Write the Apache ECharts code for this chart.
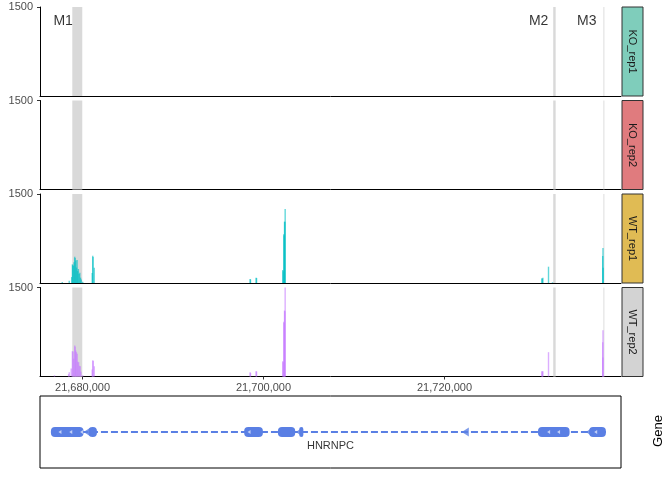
<!DOCTYPE html>
<html>
<head>
<meta charset="utf-8">
<script src="https://cdn.jsdelivr.net/npm/echarts@6/dist/echarts.min.js"></script>
<style>
  html, body { margin: 0; padding: 0; background: #fff; }
  #main { width: 672px; height: 480px; }
</style>
</head>
<body>
<div id="main"></div>
<script>
// genomic window (bp)
const xMin = 21675300
const xMax = 21739500
const xTicks = [21680000, 21700000, 21720000]
const yMax = 1500

const sampleNames = ['KO_rep1', 'KO_rep2', 'WT_rep1', 'WT_rep2']
const stripColors = ['#7FCDBB', '#E07B7E', '#E0BB54', '#D3D3D3']
const trackColors = ['#00BFC4', '#F8766D', '#00BFC4', '#C77CFF']

// highlighted regions [start, end, label, labelPos]
const regions = [
  [21678870, 21679970, 'M1', 21677860],
  [21732010, 21732280, 'M2', 21730400],
  [21737560, 21737660, 'M3', 21735710]
]

// coverage [position, depth]
const ko1 = []
const ko2 = []
const wt1 = [
  [21677760, 15], [21678530, 40], [21678800, 100], [21678880, 315], [21678920, 300],
  [21679000, 290], [21679060, 350], [21679140, 443], [21679180, 420], [21679260, 380],
  [21679330, 260], [21679400, 388], [21679460, 200], [21679540, 236], [21679620, 150],
  [21679700, 173], [21679780, 90], [21679860, 60], [21680020, 20],
  [21681070, 168], [21681130, 460], [21681160, 440], [21681290, 258],
  [21698520, 67], [21698560, 60], [21699180, 89], [21699230, 85],
  [21702130, 219], [21702170, 200], [21702240, 820], [21702280, 800],
  [21702320, 1033], [21702360, 1033], [21702390, 1247],
  [21730760, 79], [21730800, 70], [21730870, 90], [21731490, 275], [21731930, 12],
  [21737480, 455], [21737510, 590], [21737530, 258]
]
const wt2 = [
  [21676900, 20], [21678460, 40], [21678530, 73], [21678750, 135], [21678880, 426],
  [21678950, 420], [21679020, 300], [21679140, 522], [21679180, 500], [21679250, 438],
  [21679320, 410], [21679410, 382], [21679480, 250], [21679570, 241], [21679660, 180],
  [21679740, 174], [21679820, 80], [21680020, 20],
  [21681070, 118], [21681140, 275], [21681170, 260], [21681290, 174],
  [21698520, 73], [21698560, 60], [21699180, 90], [21699230, 85],
  [21702130, 258], [21702170, 240], [21702240, 921], [21702280, 900],
  [21702320, 1112], [21702360, 1100], [21702390, 1500],
  [21730760, 90], [21730800, 85], [21730870, 90], [21731490, 410],
  [21737480, 578], [21737500, 320], [21737510, 780]
]
const coverage = [ko1, ko2, wt1, wt2]

// gene model (HNRNPC, minus strand)
const geneName = 'HNRNPC'
const geneSpan = [21676510, 21737830]
const exons = [
  [21676510, 21680110], [21680660, 21681590], [21697860, 21699930],
  [21701590, 21703500], [21703950, 21704400], [21730330, 21733820],
  [21735980, 21737830]
]
const strandArrows = [21680500, 21703950, 21722300, 21736000]
const exonArrows = [21677500, 21678700, 21679900, 21698400, 21731500, 21732600, 21736700]

const chart = echarts.init(document.getElementById('main'))
const font = 'Liberation Sans, Arial, sans-serif'
const blue = '#5A7FE4'
const panelTop = [7, 100.5, 194, 287.5]
const panelH = 89

const grids = []
const xAxes = []
const yAxes = []
const series = []
const graphics = []

panelTop.forEach((top, i) => {
  grids.push({ left: 40, right: 51, top: top, height: panelH })
  const last = i === panelTop.length - 1
  xAxes.push({
    type: 'value', gridIndex: i, min: xMin, max: xMax,
    axisLine: { show: true, onZero: false, lineStyle: { color: '#000', width: 1 } },
    axisTick: { show: last, customValues: xTicks, length: 3, lineStyle: { color: '#333' } },
    axisLabel: {
      show: last, customValues: xTicks, color: '#4D4D4D', fontSize: 11, margin: 6, fontFamily: font,
      formatter: v => v.toLocaleString('en-US')
    },
    splitLine: { show: false }
  })
  yAxes.push({
    type: 'value', gridIndex: i, min: 0, max: yMax,
    axisLine: { show: true, lineStyle: { color: '#000', width: 1 } },
    axisTick: { show: true, customValues: [yMax], length: 3, lineStyle: { color: '#333' } },
    axisLabel: {
      customValues: [yMax], color: '#4D4D4D', fontSize: 11, margin: 7, fontFamily: font,
      formatter: v => String(v)
    },
    splitLine: { show: false }
  })
  // shaded regions
  series.push({
    type: 'line', xAxisIndex: i, yAxisIndex: i, data: [], z: 1, silent: true,
    markArea: {
      silent: true,
      itemStyle: { color: '#D9D9D9' },
      data: regions.map(r => [{ xAxis: r[0] }, { xAxis: r[1] }])
    }
  })
  series.push({
    type: 'bar', xAxisIndex: i, yAxisIndex: i, z: 2,
    data: coverage[i], barWidth: 1.4, barGap: '-100%',
    itemStyle: { color: trackColors[i], opacity: 0.62 }
  })
  graphics.push({
    type: 'rect', shape: { x: 622, y: top, width: 21, height: panelH },
    style: { fill: stripColors[i], stroke: '#333', lineWidth: 1 }
  })
  graphics.push({
    type: 'text', x: 632.5, y: top + panelH / 2, rotation: -Math.PI / 2,
    style: { text: sampleNames[i], fill: '#1A1A1A', fontSize: 11, fontFamily: font, align: 'center', verticalAlign: 'middle' }
  })
})

// region labels in first panel
series.push({
  type: 'scatter', xAxisIndex: 0, yAxisIndex: 0, symbolSize: 0, z: 5, silent: true,
  data: regions.map(r => [r[3], 1270, r[2]]),
  label: {
    show: true, position: 'inside', color: '#000', fontSize: 14, fontFamily: font,
    formatter: p => p.data[2]
  }
})

// gene track
grids.push({ left: 40, right: 51, top: 396, height: 72, show: true, borderColor: '#000', borderWidth: 1, backgroundColor: '#fff' })
xAxes.push({ type: 'value', gridIndex: 4, min: xMin, max: xMax, show: false })
yAxes.push({ type: 'value', gridIndex: 4, min: 0, max: 2, show: false })

series.push({
  type: 'line', xAxisIndex: 4, yAxisIndex: 4, symbol: 'none', silent: true,
  data: [[geneSpan[0], 1], [geneSpan[1], 1]],
  lineStyle: { color: blue, width: 2, type: [7, 3] }
})
series.push({
  type: 'custom', xAxisIndex: 4, yAxisIndex: 4, silent: true,
  data: exons,
  renderItem: (params, api) => {
    const a = api.coord([api.value(0), 1])
    const b = api.coord([api.value(1), 1])
    return {
      type: 'rect',
      shape: { x: a[0], y: a[1] - 5, width: Math.max(b[0] - a[0], 4), height: 10, r: 4 },
      style: { fill: blue }
    }
  }
})
series.push({
  type: 'scatter', xAxisIndex: 4, yAxisIndex: 4, silent: true, z: 3,
  symbol: 'triangle', symbolRotate: 90, symbolSize: [9, 7],
  data: strandArrows.map(p => [p, 1]),
  itemStyle: { color: blue }
})
series.push({
  type: 'scatter', xAxisIndex: 4, yAxisIndex: 4, silent: true, z: 4,
  symbol: 'triangle', symbolRotate: 90, symbolSize: [4, 3],
  data: exonArrows.map(p => [p, 1]),
  itemStyle: { color: '#DCE4FA' }
})
series.push({
  type: 'scatter', xAxisIndex: 4, yAxisIndex: 4, symbolSize: 0, silent: true,
  data: [[21707400, 0.6, geneName]],
  label: { show: true, position: 'inside', color: '#000', fontSize: 11, fontFamily: font, formatter: p => p.data[2] }
})

graphics.push({
  type: 'text', x: 658, y: 431, rotation: Math.PI / 2,
  style: { text: 'Gene', fill: '#000', fontSize: 13, fontFamily: font, align: 'center', verticalAlign: 'middle' }
})

chart.setOption({
  animation: false,
  backgroundColor: '#fff',
  grid: grids,
  xAxis: xAxes,
  yAxis: yAxes,
  series: series,
  graphic: graphics
})
</script>
</body>
</html>
